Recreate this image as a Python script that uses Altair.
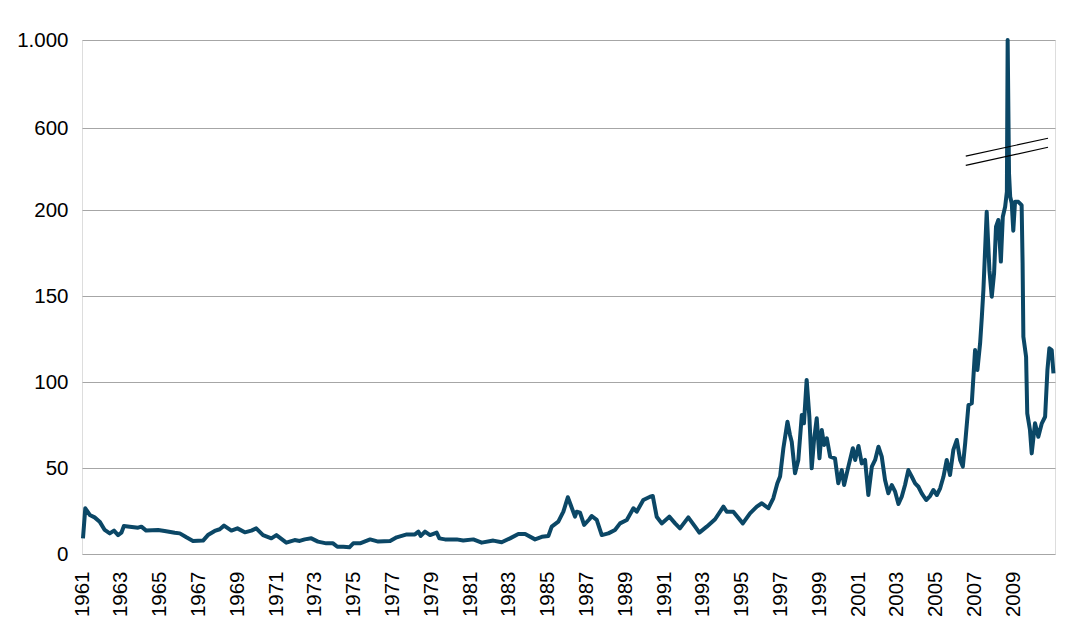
import altair as alt
import pandas as pd

years = [
    1961.05, 1961.17, 1961.40, 1961.65, 1961.91, 1962.17, 1962.43, 1962.65, 1962.86, 1963.03,
    1963.16, 1963.46, 1963.89, 1964.06, 1964.31, 1964.92, 1965.26, 1965.78, 1966.04, 1966.38,
    1966.72, 1967.24, 1967.49, 1967.84, 1968.10, 1968.32, 1968.70, 1969.01, 1969.39, 1969.73,
    1969.98, 1970.33, 1970.76, 1971.02, 1971.53, 1971.96, 1972.22, 1972.48, 1972.82, 1973.16,
    1973.59, 1973.94, 1974.16, 1974.47, 1974.78, 1974.98, 1975.33, 1975.85, 1976.27, 1976.88,
    1977.22, 1977.74, 1978.16, 1978.34, 1978.46, 1978.68, 1978.94, 1979.28, 1979.42, 1979.71,
    1980.31, 1980.65, 1981.17, 1981.60, 1982.20, 1982.63, 1983.06, 1983.49, 1983.84, 1984.35,
    1984.70, 1985.04, 1985.21, 1985.55, 1985.81, 1986.04, 1986.19, 1986.41, 1986.50, 1986.67,
    1986.88, 1987.15, 1987.27, 1987.53, 1987.79, 1988.13, 1988.47, 1988.73, 1989.08, 1989.42,
    1989.59, 1989.93, 1990.28, 1990.42, 1990.62, 1990.88, 1991.27, 1991.57, 1991.82, 1992.25,
    1992.60, 1992.82, 1993.20, 1993.63, 1994.06, 1994.23, 1994.57, 1995.06, 1995.43, 1995.78,
    1996.04, 1996.38, 1996.63, 1996.84, 1996.98, 1997.15, 1997.36, 1997.49, 1997.58, 1997.75,
    1997.92, 1998.10, 1998.21, 1998.35, 1998.49, 1998.61, 1998.73, 1998.87, 1999.01, 1999.13,
    1999.25, 1999.39, 1999.56, 1999.81, 1999.98, 2000.16, 2000.28, 2000.50, 2000.73, 2000.85,
    2001.02, 2001.19, 2001.36, 2001.53, 2001.71, 2001.88, 2002.05, 2002.22, 2002.39, 2002.56,
    2002.74, 2002.91, 2003.08, 2003.25, 2003.42, 2003.59, 2003.77, 2003.94, 2004.11, 2004.28,
    2004.51, 2004.71, 2004.88, 2005.06, 2005.23, 2005.40, 2005.57, 2005.74, 2005.91, 2006.09,
    2006.26, 2006.40, 2006.52, 2006.69, 2006.86, 2007.03, 2007.15, 2007.29, 2007.38, 2007.46,
    2007.63, 2007.77, 2007.89, 2008.01, 2008.11, 2008.23, 2008.36, 2008.46, 2008.58, 2008.67,
    2008.71, 2008.78, 2008.84, 2008.92, 2009.00, 2009.09, 2009.26, 2009.43, 2009.48, 2009.52,
    2009.66, 2009.72, 2009.86, 2009.95, 2010.12, 2010.29, 2010.47, 2010.64, 2010.76, 2010.86,
    2010.98, 2011.07,
]
values = [
    9.1, 26.6, 22.7, 21.3, 18.8, 14.0, 12.0, 13.6, 11.0, 12.4,
    16.3, 15.9, 15.3, 15.9, 13.6, 14.0, 13.4, 12.4, 12.0, 9.7,
    7.6, 7.8, 11.0, 13.4, 14.4, 16.5, 13.6, 14.9, 12.6, 13.6,
    14.9, 11.0, 9.1, 11.0, 6.6, 8.1, 7.6, 8.5, 9.1, 7.2,
    6.2, 6.2, 4.2, 4.2, 3.9, 6.2, 6.2, 8.5, 7.2, 7.6,
    9.7, 11.4, 11.4, 13.0, 10.5, 13.0, 11.0, 12.4, 9.1, 8.5,
    8.5, 7.8, 8.5, 6.6, 7.8, 6.8, 9.1, 11.6, 11.6, 8.5,
    10.0, 10.5, 15.9, 18.8, 24.6, 33.0, 28.5, 21.7, 24.6, 24.0,
    16.9, 20.2, 22.1, 19.8, 11.0, 12.0, 14.0, 17.8, 19.8, 26.6,
    24.6, 31.4, 33.3, 33.7, 21.7, 17.8, 21.7, 17.8, 14.9, 21.3,
    15.9, 12.4, 15.9, 20.2, 27.5, 24.6, 24.6, 17.8, 23.6, 27.5,
    29.5, 26.6, 32.4, 41.1, 45.0, 61.5, 76.9, 69.2, 65.3, 46.9,
    54.7, 80.8, 76.0, 101.2, 79.8, 49.8, 66.3, 78.9, 55.6, 72.1,
    63.4, 67.3, 56.6, 55.6, 41.1, 48.8, 40.1, 50.8, 61.5, 54.7,
    62.8, 52.7, 54.7, 34.3, 50.8, 54.7, 62.4, 56.6, 43.0, 35.3,
    40.1, 36.2, 29.1, 33.3, 40.1, 48.8, 44.9, 41.1, 39.1, 35.3,
    31.4, 33.7, 37.2, 34.3, 38.2, 44.9, 54.7, 45.9, 60.5, 66.3,
    54.7, 50.8, 64.4, 86.6, 87.6, 118.6, 107.0, 122.5, 138.0, 153.5,
    199.0, 165.0, 149.6, 163.2, 190.3, 194.2, 170.0, 196.1, 216.0, 289.0,
    1000.0, 379.0, 265.0, 233.0, 188.0, 240.0, 240.0, 224.0, 169.0, 126.3,
    114.7, 81.8, 72.1, 58.5, 76.0, 68.2, 76.0, 79.8, 107.0, 119.6,
    118.6, 105.0,
]

# Axis ticks
x_ticks = list(range(1961, 2010, 2))
y_ticks = [0, 50, 100, 150, 200, 600, 1000]

# Broken value axis: 0-200 linear, 200-600 and 600-1000 compressed
y_domain = [0, 200, 600, 1000]

# Axis break marker (two parallel strokes)
break_x = [2006.55, 2006.55]
break_x2 = [2010.79, 2010.79]
break_y = [463.0, 418.0]
break_y2 = [550.0, 506.0]

W, H = 973, 514
y_range = [H, H - 344, H - 426, 0]

df = pd.DataFrame({"year": years, "value": values})
brk = pd.DataFrame({"x": break_x, "x2": break_x2, "y": break_y, "y2": break_y2})

FONT = "Liberation Sans"
FS = 20.5

x_scale = alt.Scale(domain=[1961, 2011.15], nice=False, zero=False)
y_scale = alt.Scale(domain=y_domain, range=y_range, nice=False, zero=False, clamp=True)

line = alt.Chart(df).mark_line(color="#0b4766", strokeWidth=4, strokeJoin="round").encode(
    x=alt.X("year:Q", scale=x_scale,
            axis=alt.Axis(values=x_ticks, format="d", labelAngle=-90, ticks=False,
                          domain=False, grid=False, labelPadding=17, title=None,
                          labelFont=FONT, labelFontSize=FS, labelColor="#000000",
                          labelOverlap=False)),
    y=alt.Y("value:Q", scale=y_scale,
            axis=alt.Axis(values=y_ticks, ticks=False, domain=False, grid=True,
                          gridColor="#a6a6a6", gridWidth=1.2, labelPadding=14, title=None,
                          labelFont=FONT, labelFontSize=FS, labelColor="#000000",
                          labelExpr="datum.value == 1000 ? '1.000' : datum.label",
                          labelOverlap=False)),
)

breaks = alt.Chart(brk).mark_rule(color="#000000", strokeWidth=1.2).encode(
    x=alt.X("x:Q", scale=x_scale),
    x2="x2:Q",
    y=alt.Y("y:Q", scale=y_scale),
    y2="y2:Q",
)

chart = (line + breaks).properties(
    width=W, height=H,
    autosize=alt.AutoSizeParams(type="none"),
    padding={"left": 74, "top": 32, "right": 17, "bottom": 74},
).configure_view(stroke=None).configure(background="#ffffff")

chart.save("out.html", embed_options={"renderer": "svg", "actions": False})
